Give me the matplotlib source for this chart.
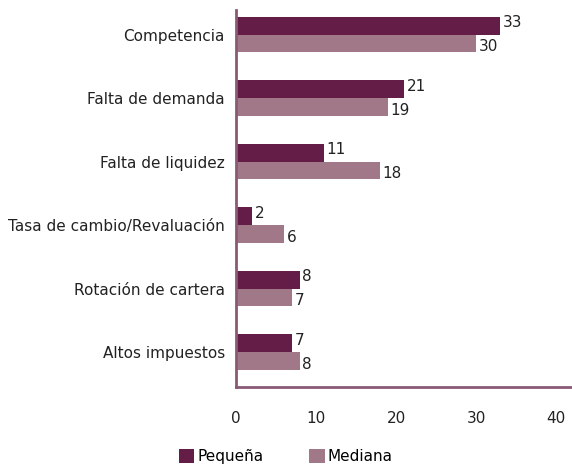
import matplotlib
matplotlib.use("Agg")
import matplotlib.pyplot as plt
import numpy as np

categories = ["Competencia", "Falta de demanda", "Falta de liquidez",
              "Tasa de cambio/Revaluación", "Rotación de cartera", "Altos impuestos"]
pequena = [33, 21, 11, 2, 8, 7]
mediana = [30, 19, 18, 6, 7, 8]
x_ticks = [0, 10, 20, 30, 40]

dark = "#641d47"
light = "#a07888"
spine = "#8a5a75"

plt.rcParams['font.family'] = ['DejaVu Sans']

fig = plt.figure(figsize=(5.72, 4.72), dpi=100)
ax = fig.add_axes([0.4126, 0.18, 0.5874, 0.799])

y = np.arange(len(categories))[::-1]
h = 0.28
ax.barh(y + h/2, pequena, height=h, color=dark, label="Pequeña")
ax.barh(y - h/2, mediana, height=h, color=light, label="Mediana")

for yi, p, m in zip(y, pequena, mediana):
    ax.text(p + 0.3, yi + h/2 + 0.05, str(p), va="center", ha="left", fontsize=11, color="#222222")
    ax.text(m + 0.3, yi - h/2 - 0.05, str(m), va="center", ha="left", fontsize=11, color="#222222")

ax.set_xlim(0, 42)
ax.set_ylim(-0.55, 5.39)
ax.set_yticks(y)
ax.set_yticklabels(categories, fontsize=11, color="#222222")
ax.set_xticks(x_ticks)
ax.set_xticklabels([str(t) for t in x_ticks], fontsize=11, color="#222222")
ax.tick_params(axis="both", length=0)
ax.tick_params(axis="x", pad=17)
ax.tick_params(axis="y", pad=8)
for s in ["top", "right"]:
    ax.spines[s].set_visible(False)
for s in ["left", "bottom"]:
    ax.spines[s].set_color(spine)
    ax.spines[s].set_linewidth(2)

fig.legend(loc="lower center", bbox_to_anchor=(0.5, -0.012), ncol=2, frameon=False,
           fontsize=11, handlelength=1.0, handleheight=1.0, columnspacing=3.0, handletextpad=0.2)

fig.savefig("out.png", dpi=100)
